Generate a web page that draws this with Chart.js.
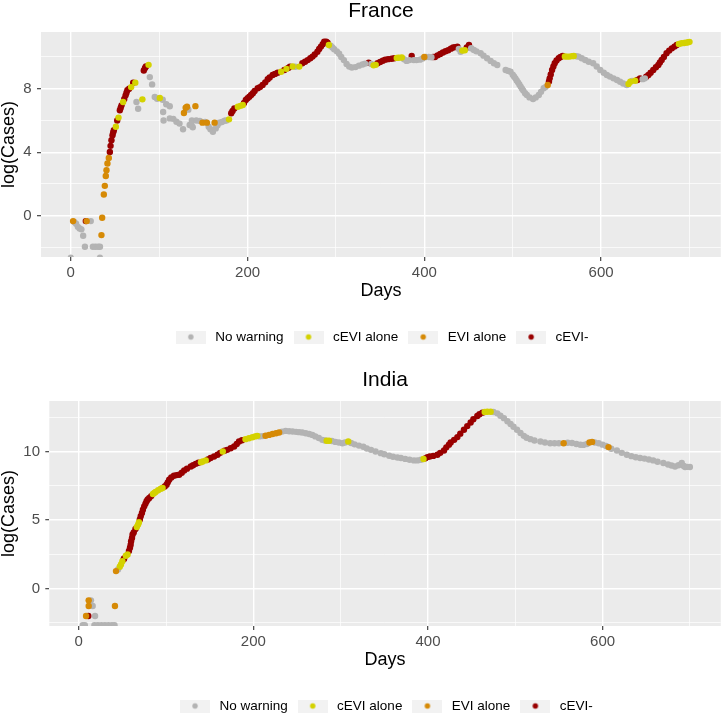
<!DOCTYPE html>
<html>
<head>
<meta charset="utf-8">
<script src="https://cdn.jsdelivr.net/npm/chart.js@4.4.0/dist/chart.umd.min.js"></script>
<style>
  body { margin: 0; background: #ffffff; overflow: hidden; width: 724px; height: 716px; position: relative; }
  .plot { position: absolute; left: 0; width: 724px; height: 360px; }
</style>
</head>
<body>
<div class="plot" style="top:0px"><canvas id="france" width="724" height="360"></canvas></div>
<div class="plot" style="top:369px"><canvas id="india" width="724" height="360"></canvas></div>
<script>
// warning categories, in legend order
var warningLabels = ["No warning", "cEVI alone", "EVI alone", "cEVI-"];
var warningColors = ["#B3B3B3", "#D4D200", "#D68A06", "#990000"];

// tick labels
var dayTicks = [0, 200, 400, 600];
var franceLogTicks = [0, 4, 8];
var indiaLogTicks = [0, 5, 10];

// France: [day, log(cases)] per warning class
var franceNoWarn = [[0,-2.65],[4,-0.4],[6,-0.5],[8,-0.7],[10,-0.8],[12,-0.86],[14,-1.26],[16,-1.95],[22.6,-0.34],[25,-1.95],[28,-1.95],[31,-1.95],[33,-1.95],[33,-2.65],
  [74.3,7.16],[76.2,6.74],[89.4,8.73],[92,8.27],[95,7.48],[97.7,7.37],[104,7.3],[104.5,6.53],[105,6.0],[108,7.02],[112,6.89],[112,6.13],[116,6.1],[119.5,5.92],[123,5.8],[127,5.45],
  [133,6.68],[134.5,5.71],[136.6,5.7],[137,6.0],[138,5.57],[142,6.0],[146,5.97],[152,5.9],[156,5.6],[158,5.45],[160.8,5.29],[164,5.5],[166,5.7],[168,5.86],[171,5.9],[174,5.98],[176,6.0],
  [254,9.38],[294,10.7],[296,10.6],[298,10.48],[301,10.35],[303.6,10.2],[306,10.0],[309,9.8],[312,9.55],[315,9.39],[318,9.33],[322,9.36],[326,9.45],[330,9.52],[333,9.58],[340,9.55],
  [377,9.85],[380,9.75],[383,9.8],[388,9.8],[391,9.8],[395,9.83],[398,9.9],[402,10.0],[405,10.0],[408,9.98],[439,10.5],[441,10.33],[453,10.55],[456,10.44],[459,10.35],[463.7,10.23],
  [467,10.08],[471,9.92],[475,9.75],[478.7,9.6],[482.5,9.49],[492,9.18],[495,9.12],[497.5,9.07],[500,8.88],[501.5,8.77],[503,8.65],[504.5,8.52],[506,8.4],[507.5,8.27],[509,8.13],
  [510.5,8.0],[512,7.88],[514,7.72],[516,7.6],[519,7.45],[523,7.35],[526,7.45],[529.5,7.6],[532,7.8],[535,8.03],[537,8.1],[572,10.04],[574.5,10.02],[578,9.92],[582,9.81],[586,9.7],
  [591,9.6],[595,9.4],[599,9.18],[603,9.0],[606.5,8.86],[610,8.76],[614,8.65],[618,8.55],[621.5,8.44],[625,8.33],[629,8.23],[635,8.48],[647,8.6],[649.5,8.65]];
var franceCevi = [[51,5.6],[54,6.18],[59.2,7.16],[68.3,8.1],[73,8.38],[81,7.33],[88,9.5],[100.7,7.41],[179,6.07],[189,6.86],[192,6.92],[194.6,6.97],[238,9.07],[244,9.25],[251,9.4],
  [258.5,9.39],[292,10.75],[342.6,9.47],[345,9.5],[368.8,9.94],[371,9.95],[374.5,9.96],[443,10.4],[445.8,10.42],[559,10.03],[561.5,10.02],[564,10.02],[567,10.05],[569,10.06],
  [631,8.3],[633,8.44],[638.5,8.5],[688,10.82],[691,10.86],[694,10.88],[696,10.9],[698.5,10.92],[700,10.95]];
var franceEvi = [[2.6,-0.34],[18,-0.34],[34.7,-1.22],[35.5,-0.13],[37.4,1.34],[38.5,1.88],[39.6,2.5],[40.4,2.87],[41.5,3.29],[43,3.64],[128,6.47],[130,6.8],[131.5,6.87],[141,6.9],
  [149,5.86],[154,5.86],[162.7,5.86],[400,10.0],[539.6,8.23]];
var franceBoth = [[17,-0.34],[44.2,4.02],[45,4.4],[46,4.75],[47.2,5.07],[48,5.25],[48.7,5.38],[52.5,6.0],[55.5,6.64],[56.5,6.8],[57.4,6.95],[60.5,7.35],[62,7.58],[63,7.75],[64,7.9],
  [66,8.0],[70.6,8.38],[82.6,9.15],[84,9.3],[85,9.4],[181.5,6.45],[183,6.6],[185,6.76],[196,7.1],[198,7.29],[200,7.4],[202,7.5],[204,7.6],[206,7.71],[208,7.85],[211.5,8.03],[214,8.1],
  [217,8.23],[220,8.4],[222.8,8.59],[225,8.7],[228.4,8.86],[231,8.93],[234,9.0],[241.6,9.18],[246,9.3],[248,9.39],[262,9.6],[265,9.7],[268,9.8],[271,9.92],[273.5,10.02],[276,10.15],
  [279,10.33],[281,10.5],[283,10.65],[285,10.8],[286.7,10.96],[289,10.96],[290.5,10.9],[337,9.64],[347,9.6],[350,9.68],[353,9.76],[355.7,9.83],[359,9.86],[363,9.89],[366,9.92],
  [385.7,10.06],[410,10.0],[412,10.0],[415,10.1],[418,10.18],[421,10.28],[424,10.36],[427,10.42],[430,10.52],[432.6,10.59],[435,10.62],[437.4,10.65],[448,10.6],[450.5,10.75],
  [541,8.45],[541.8,8.65],[543,8.9],[544.5,9.18],[546,9.4],[547.5,9.6],[549.5,9.78],[552,9.92],[554,10.0],[556.5,10.06],[641,8.55],[644,8.65],[651,8.75],[653.5,8.86],[656,9.0],
  [659,9.18],[662,9.35],[664.7,9.49],[666.5,9.65],[668.5,9.81],[671,10.0],[674,10.23],[677,10.4],[680,10.54],[683,10.65],[685.5,10.75]];

// India: [day, log(cases)] per warning class
var indiaNoWarn = [[4.6,-2.66],[7,-2.66],[18.7,-1.99],[16,-1.26],[14,-0.85],[18,-2.66],[22,-2.66],[26,-2.66],[30,-2.66],[34,-2.66],[38,-2.66],[41,-2.66],[45,1.4],
  [207,11.1],[210.5,11.12],[233,11.45],[237,11.5],[241,11.48],[245,11.46],[249,11.43],[252.4,11.41],[256,11.38],[260,11.33],[264,11.27],[267.6,11.21],[271,11.1],[275,10.98],
  [279,10.85],[282,10.8],[290,10.76],[294,10.7],[298,10.65],[302,10.6],[305,10.66],[312,10.62],[316,10.52],[321,10.43],[326,10.35],[330,10.22],[334.8,10.12],[340,10.0],[346,9.88],
  [350,9.8],[355.6,9.69],[360,9.62],[365,9.56],[369,9.52],[374,9.46],[379,9.4],[384,9.35],[388,9.35],[392,9.4],[475,12.88],[479.4,12.78],[483,12.6],[487,12.43],[491,12.2],
  [494.6,12.0],[498,11.8],[502,11.58],[506,11.35],[509.8,11.14],[513,11.0],[517.4,10.9],[522,10.8],[528.8,10.73],[534,10.66],[540,10.6],[545,10.6],[550,10.6],[560,10.64],
  [565,10.62],[570,10.55],[574.6,10.49],[578,10.48],[582,10.55],[591,10.66],[595.5,10.6],[600,10.5],[604,10.4],[610,10.2],[616.4,10.07],[622,9.9],[627.8,9.76],[633,9.66],
  [638,9.58],[643,9.52],[648,9.48],[653,9.42],[658,9.35],[663,9.25],[669.6,9.16],[675,9.05],[679,8.98],[683,8.91],[687,9.0],[690.7,9.16],[693,8.95],[694.5,8.87],[697,8.88],[700,8.87]];
var indiaCevi = [[47,1.6],[48.4,1.77],[50,2.0],[54,2.4],[56,2.49],[66.5,4.5],[68,4.67],[69,4.85],[85,6.9],[86.5,6.97],[88,7.05],[91,7.17],[94,7.28],[96,7.34],[140,9.22],[142,9.27],
  [145.5,9.35],[165,10.0],[191,10.9],[195,10.97],[199,11.04],[202,11.1],[204.5,11.14],[284,10.78],[286.7,10.78],[308.7,10.73],[394.9,9.45],[465,12.88],[468,12.9],[471.8,12.9]];
var indiaEvi = [[8.4,-1.99],[11.4,-1.26],[11.4,-0.85],[41.5,-1.26],[42.7,1.28],[214,11.15],[218,11.21],[222,11.28],[226,11.33],[229.5,11.38],[555.4,10.6],[585,10.66],[588,10.7],[606.8,10.32]];
var indiaBoth = [[11,-1.99],[51.5,2.15],[52,2.2],[57.5,2.75],[58.7,2.98],[59.5,3.2],[60,3.46],[61,3.7],[61.7,3.95],[63,4.1],[65,4.35],[70,5.05],[71,5.28],[72.4,5.52],[73.5,5.75],
  [75,6.0],[76.5,6.2],[77.7,6.37],[79,6.5],[80.8,6.61],[83,6.75],[98.5,7.45],[100.6,7.58],[102,7.75],[103.6,7.94],[106,8.1],[109,8.23],[112,8.28],[115,8.3],[118,8.45],[120.8,8.62],
  [124,8.75],[128.4,8.91],[131,9.0],[134,9.1],[137,9.18],[148,9.42],[151,9.52],[155,9.64],[159,9.76],[162,9.9],[167,10.05],[170,10.12],[174,10.24],[178,10.36],[181,10.55],
  [183.6,10.73],[187,10.82],[397,9.5],[399.4,9.59],[402,9.63],[406,9.68],[410.8,9.76],[414,9.9],[418.4,10.07],[421,10.3],[424,10.5],[426,10.65],[430,10.85],[433.7,11.05],
  [437,11.3],[441.2,11.58],[445,11.85],[448.9,12.11],[452,12.35],[456.5,12.59],[459,12.72],[462.3,12.83]];

Chart.defaults.font.family = "'Liberation Sans', Arial, sans-serif";
Chart.defaults.color = "#000000";

// legend key: grey tile with a dot
function keyImage(color) {
    var c = document.createElement("canvas");
    c.width = 30;
    c.height = 13;
    var g = c.getContext("2d");
    g.fillStyle = "#F2F2F2";
    g.fillRect(0, 0, 30, 13);
    g.fillStyle = color;
    g.beginPath();
    g.arc(15, 6.5, 2.7, 0, Math.PI * 2);
    g.fill();
    return c;
}

var panelBg = {
    id: "panelBg",
    beforeDraw: function (chart) {
        var a = chart.chartArea;
        chart.ctx.save();
        chart.ctx.fillStyle = "#EBEBEB";
        chart.ctx.fillRect(a.left, a.top, a.right - a.left, a.bottom - a.top);
        chart.ctx.restore();
    }
};

function drawPanel(id, title, series, yMin, yMax, yStep, yTicks, yWidth) {
    var drawOrder = [2, 1, 0, 3];
    var datasets = series.map(function (pts, i) {
        return {
            label: warningLabels[i],
            data: pts.map(function (p) { return { x: p[0], y: p[1] }; }),
            backgroundColor: warningColors[i],
            borderColor: warningColors[i],
            pointRadius: 3.2,
            pointHoverRadius: 3.2,
            pointBorderWidth: 0,
            order: drawOrder[i],
            clip: 0
        };
    });

    new Chart(document.getElementById(id), {
        type: "scatter",
        data: { datasets: datasets },
        plugins: [panelBg],
        options: {
            responsive: false,
            animation: false,
            devicePixelRatio: 1,
            layout: { padding: { top: 0, left: 0, right: 1, bottom: 6.25 } },
            plugins: {
                tooltip: { enabled: false },
                title: {
                    display: true,
                    text: title,
                    fullSize: false,
                    color: "#000000",
                    font: { size: 21, weight: "normal", lineHeight: 1 },
                    padding: { top: 1, bottom: 10 }
                },
                legend: {
                    position: "bottom",
                    fullSize: false,
                    labels: {
                        usePointStyle: true,
                        pointStyleWidth: 35.3,
                        padding: 7.35,
                        color: "#000000",
                        font: { size: 13.5 },
                        generateLabels: function (chart) {
                            return warningLabels.map(function (name, i) {
                                return {
                                    text: name,
                                    fillStyle: warningColors[i],
                                    strokeStyle: warningColors[i],
                                    lineWidth: 0,
                                    pointStyle: keyImage(warningColors[i]),
                                    hidden: false,
                                    datasetIndex: i
                                };
                            });
                        }
                    }
                }
            },
            scales: {
                x: {
                    type: "linear",
                    min: -33.7,
                    max: 735.4,
                    afterFit: function (s) { s.height = 65.9; },
                    border: { display: false },
                    grid: {
                        color: "#FFFFFF",
                        lineWidth: function (c) { return dayTicks.indexOf(c.tick.value) >= 0 ? 1.4 : 0.7; },
                        tickColor: function (c) { return dayTicks.indexOf(c.tick.value) >= 0 ? "#333333" : "rgba(0,0,0,0)"; },
                        tickWidth: 1.1,
                        tickLength: 4
                    },
                    ticks: {
                        stepSize: 100,
                        includeBounds: false,
                        autoSkip: false,
                        maxRotation: 0,
                        padding: 2.5,
                        color: "#4D4D4D",
                        font: { size: 15 },
                        callback: function (v) { return dayTicks.indexOf(v) >= 0 ? String(v) : ""; }
                    },
                    title: {
                        display: true,
                        text: "Days",
                        color: "#000000",
                        font: { size: 18 },
                        padding: { top: 0, bottom: 20.6 }
                    }
                },
                y: {
                    type: "linear",
                    min: yMin,
                    max: yMax,
                    afterFit: function (s) { s.width = yWidth; },
                    border: { display: false },
                    grid: {
                        color: "#FFFFFF",
                        lineWidth: function (c) { return yTicks.indexOf(c.tick.value) >= 0 ? 1.4 : 0.7; },
                        tickColor: function (c) { return yTicks.indexOf(c.tick.value) >= 0 ? "#333333" : "rgba(0,0,0,0)"; },
                        tickWidth: 1.1,
                        tickLength: 4
                    },
                    ticks: {
                        stepSize: yStep,
                        includeBounds: false,
                        autoSkip: false,
                        padding: 5.3,
                        color: "#4D4D4D",
                        font: { size: 15 },
                        callback: function (v) { return yTicks.indexOf(v) >= 0 ? String(v) : ""; }
                    },
                    title: {
                        display: true,
                        text: "log(Cases)",
                        color: "#000000",
                        font: { size: 18, lineHeight: 1 },
                        padding: 0
                    }
                }
            }
        }
    });
}

drawPanel("france", "France", [franceNoWarn, franceCevi, franceEvi, franceBoth], -2.6, 11.57, 2, franceLogTicks, 41);
drawPanel("india", "India", [indiaNoWarn, indiaCevi, indiaEvi, indiaBoth], -2.72, 13.68, 2.5, indiaLogTicks, 49.3);
</script>
</body>
</html>
